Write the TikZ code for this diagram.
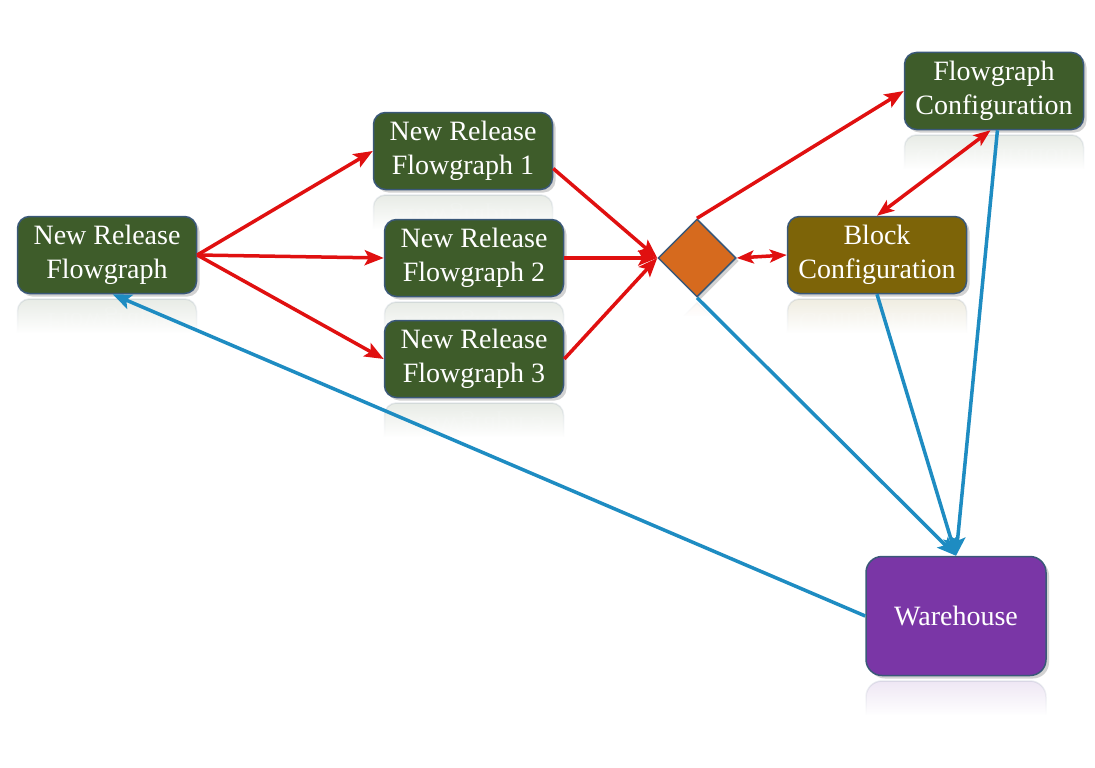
\documentclass[tikz,border=0pt]{standalone}
\usepackage{fontspec}
\setmainfont{LiberationSerif-Regular.ttf}[BoldFont=LiberationSerif-Bold.ttf]
\usetikzlibrary{arrows.meta,shapes.geometric,shadows,calc,fadings}
\pgfdeclarelayer{paper}
\pgfdeclarelayer{refl}
\pgfsetlayers{paper,refl,main}
\definecolor{boxgreen}{HTML}{3E5C2A}
\definecolor{boxgold}{HTML}{7D6408}
\definecolor{boxpurple}{HTML}{7A36A6}
\definecolor{diamorange}{HTML}{D66A1E}
\definecolor{edgeblue}{HTML}{3A5878}
\definecolor{arrred}{HTML}{E01010}
\definecolor{arrblue}{HTML}{1E8CC2}
\newcommand{\mkreflect}[3]{%
  \begin{pgfonlayer}{refl}
  \begin{scope}
    \clip ([yshift=-3pt,xshift=-6pt]#1.south west) rectangle ([yshift=-38pt,xshift=6pt]#1.south east);
    \node[#2, yscale=-1, opacity=0.12, anchor=south] at ([yshift=-4pt]#1.south) {#3};
    \fill[white, path fading=north] ([yshift=-3pt,xshift=-6pt]#1.south west) rectangle ([yshift=-39pt,xshift=6pt]#1.south east);
  \end{scope}
  \end{pgfonlayer}}
\begin{document}
\begin{tikzpicture}[x=1pt,y=-1pt,
  basebox/.style={rectangle, rounded corners=12pt, draw=edgeblue, line width=1.5pt,
    minimum width=179pt, minimum height=77pt, text=white, align=center,
    font=\rmfamily\fontsize{28}{34}\selectfont, inner sep=0pt},
  shadowed/.style={drop shadow={opacity=0.35, shadow xshift=3pt, shadow yshift=-3pt}},
  greenbox/.style={basebox, fill=boxgreen},
  goldbox/.style={basebox, fill=boxgold},
  purplebox/.style={basebox, fill=boxpurple, rounded corners=16pt, minimum width=180pt, minimum height=119pt},
  junction/.style={diamond, aspect=1, fill=diamorange, draw=edgeblue, line width=1.5pt,
    minimum width=78pt, minimum height=78pt, inner sep=0pt},
  redarrow/.style={draw=arrred, line width=3.5pt, -{Stealth[length=19pt,width=15pt,inset=4pt]}},
  redboth/.style={draw=arrred, line width=3.5pt, {Stealth[length=17pt,width=13pt,inset=4pt]}-{Stealth[length=17pt,width=13pt,inset=4pt]}},
  bluearrow/.style={draw=arrblue, line width=3.5pt, -{Stealth[length=19pt,width=15pt,inset=4pt]}}
]
\begin{pgfonlayer}{paper}
\fill[white] (0,0) rectangle (1095,768);
\end{pgfonlayer}
\useasboundingbox (0,0) rectangle (1095,768);

% nodes
\node[greenbox, shadowed] (nrf)  at (107,255) {New Release\\Flowgraph};
\node[greenbox, shadowed] (nrf1) at (463,151) {New Release\\Flowgraph 1};
\node[greenbox, shadowed] (nrf2) at (474,258) {New Release\\Flowgraph 2};
\node[greenbox, shadowed] (nrf3) at (474,359) {New Release\\Flowgraph 3};
\node[junction, shadowed] (dia)  at (697,258) {};
\node[goldbox, shadowed]  (bc)   at (877,255) {Block\\Configuration};
\node[greenbox, shadowed] (fc)   at (994,91)  {Flowgraph\\Configuration};
\node[purplebox, shadowed] (wh)  at (956,616) {Warehouse};

% reflections
\mkreflect{nrf}{greenbox}{New Release\\Flowgraph}
\mkreflect{nrf1}{greenbox}{New Release\\Flowgraph 1}
\mkreflect{nrf2}{greenbox}{New Release\\Flowgraph 2}
\mkreflect{nrf3}{greenbox}{New Release\\Flowgraph 3}
\mkreflect{bc}{goldbox}{Block\\Configuration}
\mkreflect{fc}{greenbox}{Flowgraph\\Configuration}
\mkreflect{dia}{junction}{}
\mkreflect{wh}{purplebox}{Warehouse}

% red connectors
\draw[redarrow] (nrf.east) -- (nrf1.west);
\draw[redarrow] (nrf.east) -- (nrf2.west);
\draw[redarrow] (nrf.east) -- (nrf3.west);
\draw[redarrow] (nrf1.-11) -- (dia.west);
\draw[redarrow] (nrf2.east) -- (dia.west);
\draw[redarrow] (nrf3.east) -- (dia.west);
\draw[redarrow] (dia.north) -- (fc.west);
\draw[redboth] (dia.east) -- (bc.west);
\draw[redboth] (fc.-95) -- (bc.north);

% blue connectors
\draw[bluearrow] (fc.-85) -- (wh.north);
\draw[bluearrow] (bc.south) -- (wh.north);
\draw[bluearrow] (dia.south) -- (wh.north);
\draw[bluearrow] (wh.west) -- (nrf.-82);
\end{tikzpicture}
\end{document}
